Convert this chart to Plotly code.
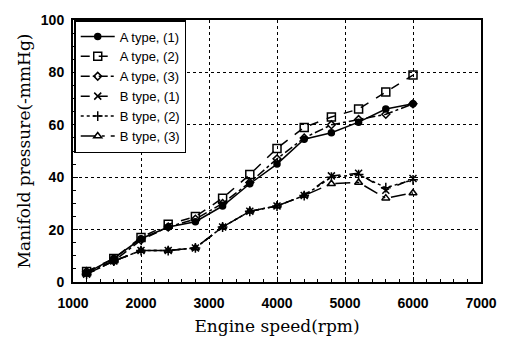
import plotly.graph_objects as go

rpm = [1200, 1600, 2000, 2400, 2800, 3200, 3600, 4000, 4400, 4800, 5200, 5600, 6000]
a1 = [3.5, 9, 16.5, 21, 23, 29, 37.5, 45, 54.5, 57, 61, 66, 68]
a2 = [4, 9, 17, 22, 25, 32, 41, 51, 59, 63, 66, 72.5, 79]
a3 = [4, 8, 16, 21, 24, 30, 38, 47, 55, 60, 62, 64, 68]
b1 = [3, 8, 12, 12, 13, 21, 27, 29, 33, 40.5, 41.5, 35, 39.5]
b2 = [3, 8, 12, 12, 13, 21, 27, 29, 33, 40, 41, 36, 39]
b3 = [3, 8, 12, 12, 13, 21, 27, 29, 33, 37.5, 38, 32, 34]

names = ["A type, (1)", "A type, (2)", "A type, (3)", "B type, (1)", "B type, (2)", "B type, (3)"]
series = [a1, a2, a3, b1, b2, b3]
markers = ["circle", "square-open", "diamond-open", "x-thin", "cross-thin", "triangle-up-open"]
dashes = ["solid", "dash", "dashdot", "dash", "dot", "longdashdot"]
msizes = [6, 8, 6, 7, 7, 7]

fig = go.Figure()
for n, y, m, d, s in zip(names, series, markers, dashes, msizes):
    fig.add_trace(go.Scatter(
        x=rpm, y=y, name=n, mode="lines+markers",
        line=dict(color="black", width=1.5, dash=d),
        marker=dict(symbol=m, size=s, color="black",
                    line=dict(color="black", width=1.5)),
    ))

axis_common = dict(
    showline=True, linecolor="black", linewidth=2, mirror=True,
    ticks="inside", ticklen=5, tickcolor="black",
    showgrid=True, gridcolor="black", gridwidth=1, griddash="dot",
    zeroline=False,
    tickfont=dict(family="Liberation Sans", size=14, color="black", weight="bold"),
)

fig.update_xaxes(range=[1000, 7000], dtick=1000, ticklabelstandoff=7,
                 minor=dict(dtick=200, ticks="inside", ticklen=3, tickcolor="black", showgrid=False),
                 title=dict(text="Engine speed(rpm)", font=dict(family="DejaVu Serif", size=17, color="black"), standoff=10),
                 **axis_common)
fig.update_yaxes(range=[0, 100], dtick=20, ticklabelstandoff=4,
                 minor=dict(dtick=5, ticks="inside", ticklen=3, tickcolor="black", showgrid=False),
                 title=dict(text="Manifold pressure(-mmHg)", font=dict(family="DejaVu Serif", size=17, color="black"), standoff=6),
                 **axis_common)

fig.update_layout(
    width=509, height=345,
    margin=dict(l=73, r=28, t=14, b=59),
    plot_bgcolor="white", paper_bgcolor="white",
    showlegend=True,
    legend=dict(x=0.003, y=1.0, xanchor="left", yanchor="top",
                bgcolor="white", bordercolor="black", borderwidth=1.5,
                font=dict(family="Liberation Sans", size=13, color="black"),
                tracegroupgap=0, itemwidth=34),
)

fig.write_html("out.html")
